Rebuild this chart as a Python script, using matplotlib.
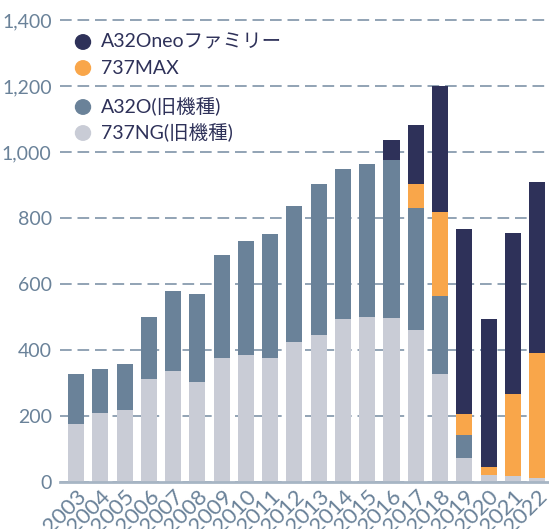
import numpy as np
import matplotlib
matplotlib.use("Agg")
import matplotlib.pyplot as plt

years = [str(y) for y in range(2003, 2023)]
ng = [177, 209, 218, 312, 337, 303, 376, 385, 376, 424, 445, 494, 500, 497, 461, 327, 73, 21, 18, 12]
a320 = [150, 133, 140, 188, 242, 267, 312, 345, 376, 412, 458, 454, 464, 479, 369, 237, 69, 0, 0, 0]
max737 = [0, 0, 0, 0, 0, 0, 0, 0, 0, 0, 0, 0, 0, 0, 73, 254, 64, 24, 249, 379]
neo = [0, 0, 0, 0, 0, 0, 0, 0, 0, 0, 0, 0, 0, 60, 179, 382, 561, 449, 488, 518]
yticks = [0, 200, 400, 600, 800, 1000, 1200, 1400]

labels = ["A32Oneoファミリー", "737MAX", "A32O(旧機種)", "737NG(旧機種)"]
c_neo, c_max, c_a320, c_ng = "#2e3159", "#f9a64a", "#6a8299", "#c9ccd6"
tick_col = "#6a8299"

plt.rcParams['font.family'] = ['Lato', 'Noto Sans CJK JP', 'DejaVu Sans']

def main():
    fig = plt.figure(figsize=(5.49, 5.29), dpi=100)
    W, H = 549, 529
    ax = fig.add_axes([60 / W, (H - 482) / H, 489 / W, 468.6 / H])

    x = np.arange(len(years))
    ng_a = np.array(ng)
    a_a = np.array(a320)
    m_a = np.array(max737)
    n_a = np.array(neo)
    w = 0.66
    ax.bar(x, ng_a, w, color=c_ng, zorder=2)
    ax.bar(x, a_a, w, bottom=ng_a, color=c_a320, zorder=2)
    ax.bar(x, m_a, w, bottom=ng_a + a_a, color=c_max, zorder=2)
    ax.bar(x, n_a, w, bottom=ng_a + a_a + m_a, color=c_neo, zorder=2)

    ax.set_xlim(-0.66, 19.49)
    ax.set_ylim(0, 1420)
    ax.set_yticks(yticks)
    ax.set_yticklabels(["{:,}".format(v) for v in yticks])
    ax.set_xticks(x)
    ax.set_xticklabels(years, rotation=45, ha="right", va="top", rotation_mode="anchor")
    ax.tick_params(axis="both", length=0, labelsize=14, colors=tick_col)
    ax.tick_params(axis="x", labelsize=16, pad=3)
    ax.tick_params(axis="y", pad=6)

    ax.yaxis.grid(True, linestyle=(0, (7, 3.5)), color="#7f93a8", linewidth=1.2, zorder=0)
    ax.set_axisbelow(True)
    for s in ["top", "right", "left"]:
        ax.spines[s].set_visible(False)
    ax.spines["bottom"].set_color("#a7b5c4")
    ax.spines["bottom"].set_linewidth(2)
    ax.spines["bottom"].set_zorder(3)

    # legend drawn by hand (two groups split by the 1200 gridline)
    rows = [42, 68, 107, 133]
    cols = [c_neo, c_max, c_a320, c_ng]
    for lab, col, ry in zip(labels, cols, rows):
        fig.patches.append(matplotlib.patches.Circle((83 / W, 1 - ry / H), 7.5 / W,
                                                     transform=fig.transFigure, color=col,
                                                     zorder=5))
        fig.text(101 / W, 1 - ry / H, lab, fontsize=14, color="#2e3159",
                 va="center", ha="left", zorder=5)

    fig.savefig("out.png", dpi=100)

if __name__ == "__main__":
    main()
